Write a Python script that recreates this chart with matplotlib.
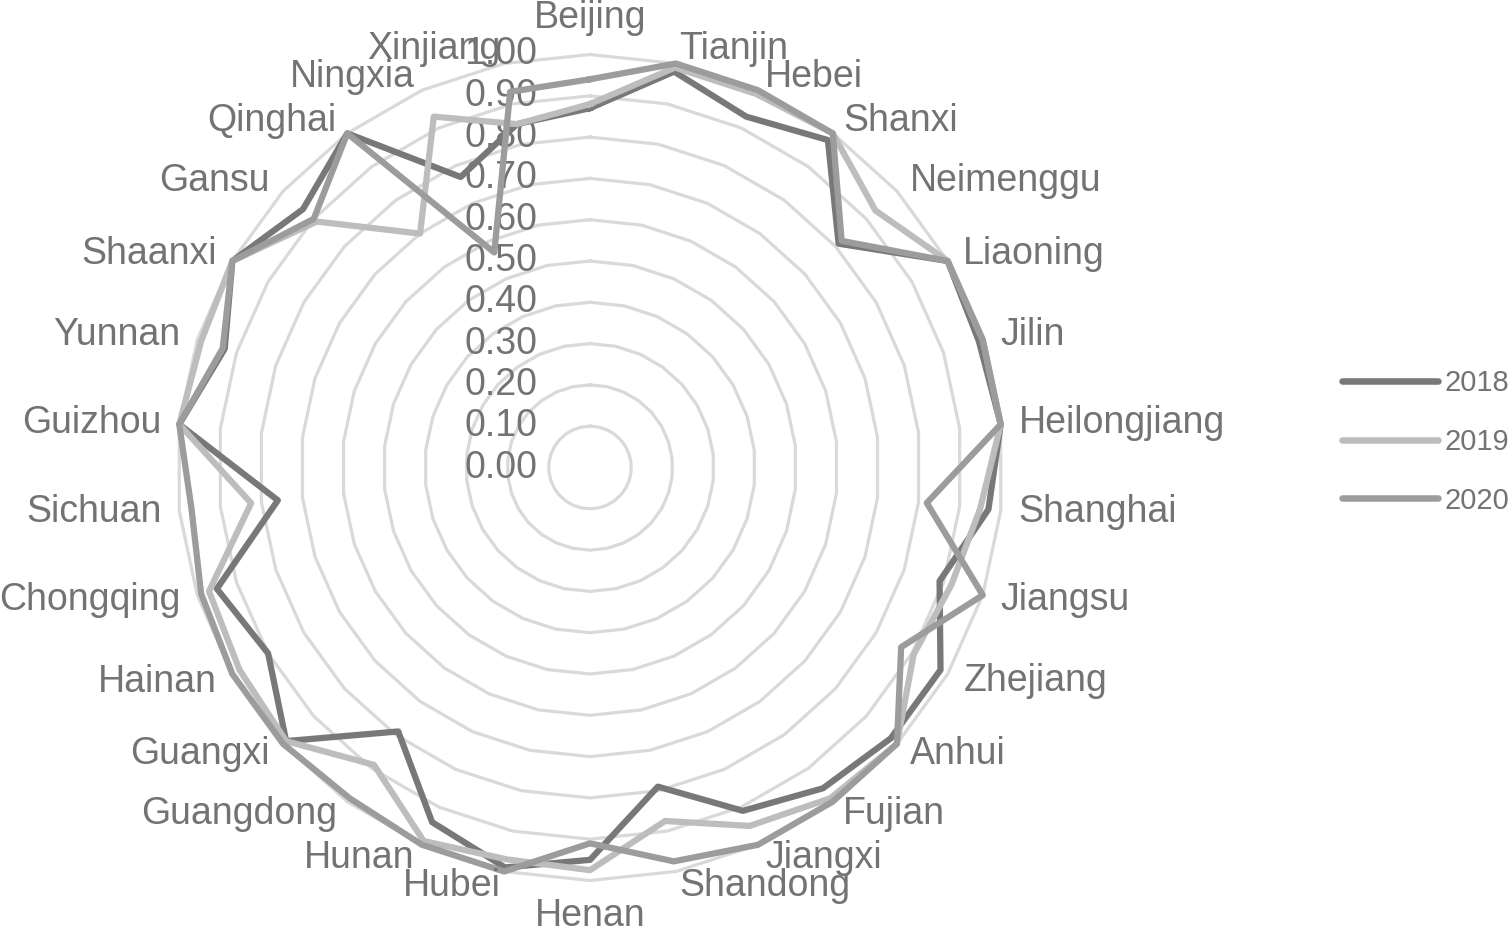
import numpy as np
import matplotlib.pyplot as plt
from matplotlib.lines import Line2D

plt.rcParams['font.family'] = ['Liberation Sans', 'DejaVu Sans']

# data
provinces = ['Beijing', 'Tianjin', 'Hebei', 'Shanxi', 'Neimenggu', 'Liaoning', 'Jilin',
             'Heilongjiang', 'Shanghai', 'Jiangsu', 'Zhejiang', 'Anhui', 'Fujian', 'Jiangxi',
             'Shandong', 'Henan', 'Hubei', 'Hunan', 'Guangdong', 'Guangxi', 'Hainan',
             'Chongqing', 'Sichuan', 'Guizhou', 'Yunnan', 'Shaanxi', 'Gansu', 'Qinghai',
             'Ningxia', 'Xinjiang']
v2018 = [0.87, 0.98, 0.93, 0.98, 0.81, 1.00, 0.99, 1.00, 0.97, 0.89, 0.98, 0.98, 0.96, 0.91,
         0.79, 0.95, 0.99, 0.94, 0.79, 0.99, 0.90, 0.95, 0.76, 1.00, 0.93, 1.00, 0.935, 1.00,
         0.77, 0.85]
v2019 = [0.88, 0.99, 0.99, 1.00, 0.93, 1.00, 1.00, 1.00, 0.95, 0.92, 0.905, 1.00, 0.99, 0.95,
         0.875, 0.975, 0.97, 0.99, 0.89, 0.99, 0.98, 0.97, 0.825, 1.00, 0.99, 1.00, 0.89, 0.70,
         0.93, 0.85]
v2020 = [0.94, 1.00, 1.00, 1.00, 0.82, 1.00, 1.00, 1.00, 0.82, 1.00, 0.87, 1.00, 1.00, 1.00,
         0.975, 0.91, 1.00, 1.00, 0.99, 1.00, 1.00, 0.99, 0.97, 1.00, 0.935, 1.00, 0.90, 1.00,
         0.57, 0.93]
years = ['2018', '2019', '2020']
r_ticks = [0.0, 0.1, 0.2, 0.3, 0.4, 0.5, 0.6, 0.7, 0.8, 0.9, 1.0]

colors = ['#787878', '#bdbdbd', '#9b9c9e']
text_color = '#737373'
grid_color = '#d9d9d9'

n = len(provinces)
theta = np.linspace(0, 2 * np.pi, n, endpoint=False)
theta_c = np.append(theta, theta[0])

fig = plt.figure(figsize=(15.12, 9.33), dpi=100)
cx, cy, R = 590, 467.5, 413
ax = fig.add_axes([(cx - R) / 1512, (933 - cy - R) / 933, 2 * R / 1512, 2 * R / 933],
                  projection='polar')
ax.set_theta_zero_location('N')
ax.set_theta_direction(-1)
ax.set_ylim(0, 1)
ax.grid(False)
ax.spines['polar'].set_visible(False)
ax.set_xticks([])
ax.set_yticks([])

# polygon gridlines
for lv in r_ticks[1:]:
    ax.plot(theta_c, [lv] * (n + 1), color=grid_color, lw=2.3, zorder=1, clip_on=False)

# radial value labels
for lv in r_ticks:
    ax.annotate(f'{lv:.2f}', xy=(0, lv), xytext=(-53, 0), textcoords='offset pixels',
                ha='right', va='center', fontsize=27, color=text_color,
                annotation_clip=False, zorder=2)

# series
for vals, col, yr in zip([v2018, v2019, v2020], colors, years):
    ax.plot(theta_c, vals + vals[:1], color=col, lw=4.5, zorder=3,
            solid_joinstyle='round', clip_on=False, label=yr)

# category labels
for t, name in zip(theta, provinces):
    s, c = np.sin(t), np.cos(t)
    if abs(s) < 0.05:
        ha, dx, dy = 'center', 0, 36 * np.sign(c)
    else:
        ha = 'left' if s > 0 else 'right'
        dx, dy = 18 * s, 15 * c
    ax.annotate(name, xy=(t, 1.0), xytext=(dx, dy), textcoords='offset pixels',
                ha=ha, va='center', fontsize=27, color=text_color,
                annotation_clip=False, zorder=4)

handles = [Line2D([0], [0], color=col, lw=4.7, solid_capstyle='round') for col in colors]
fig.legend(handles, years, loc='center left', bbox_to_anchor=(1342 / 1512, 1 - 442 / 933),
           frameon=False, fontsize=21, handlelength=3.3, handletextpad=0.2,
           labelspacing=1.05, borderpad=0, borderaxespad=0, labelcolor=text_color)

fig.savefig('out.png', dpi=100)
